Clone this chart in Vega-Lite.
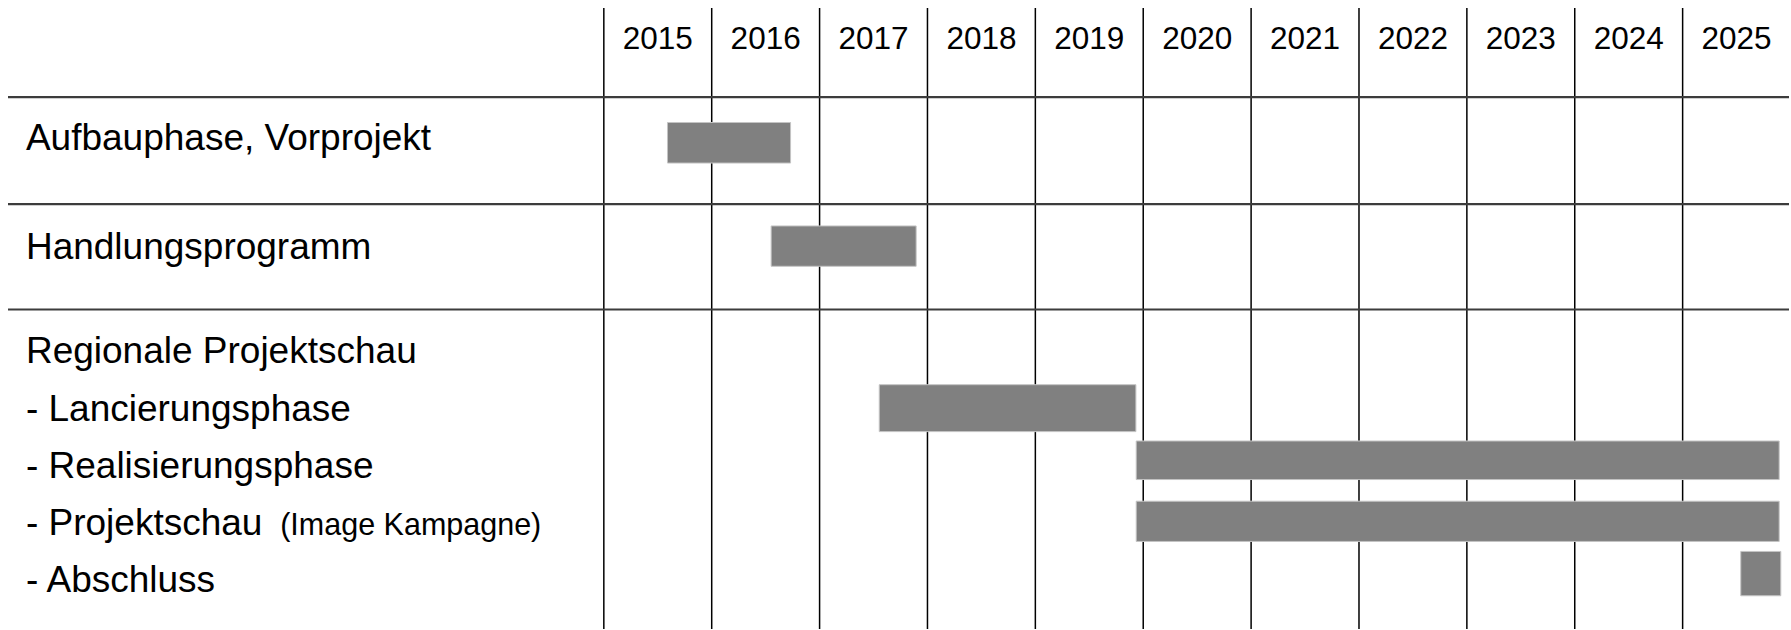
{
  "$schema": "https://vega.github.io/schema/vega-lite/v6.json",
  "width": 1791,
  "height": 630,
  "autosize": {"type": "fit", "contains": "padding"},
  "padding": 0,
  "background": "white",
  "config": {"view": {"stroke": null}},
  "layer": [
    {
      "data": {"values": [
        {"x": 2015, "y": 0.8, "y2": 63},
        {"x": 2016, "y": 0.8, "y2": 63},
        {"x": 2017, "y": 0.8, "y2": 63},
        {"x": 2018, "y": 0.8, "y2": 63},
        {"x": 2019, "y": 0.8, "y2": 63},
        {"x": 2020, "y": 0.8, "y2": 63},
        {"x": 2021, "y": 0.8, "y2": 63},
        {"x": 2022, "y": 0.8, "y2": 63},
        {"x": 2023, "y": 0.8, "y2": 63},
        {"x": 2024, "y": 0.8, "y2": 63},
        {"x": 2025, "y": 0.8, "y2": 63}
      ]},
      "mark": {"type": "rule", "color": "#000000", "strokeWidth": 1.5},
      "encoding": {
        "x": {"field": "x", "type": "quantitative", "axis": null, "scale": {"domain": [2009.4028, 2025.986], "nice": false, "zero": false}},
        "y": {"field": "y", "type": "quantitative", "axis": null, "scale": {"domain": [63, 0], "nice": false, "zero": false}},
        "y2": {"field": "y2"}
      }
    },
    {
      "data": {"values": [
        {"x": 2009.477, "x2": 2025.986, "y": 9.73},
        {"x": 2009.477, "x2": 2025.986, "y": 20.45},
        {"x": 2009.477, "x2": 2025.986, "y": 31.0}
      ]},
      "mark": {"type": "rule", "color": "#3c3c3c", "strokeWidth": 2.2},
      "encoding": {
        "x": {"field": "x", "type": "quantitative"},
        "x2": {"field": "x2"},
        "y": {"field": "y", "type": "quantitative"}
      }
    },
    {
      "data": {"values": [
        {"task": "Aufbauphase, Vorprojekt", "start": 2015.59, "end": 2016.731, "top": 12.27, "bottom": 16.33},
        {"task": "Handlungsprogramm", "start": 2016.551, "end": 2017.895, "top": 22.63, "bottom": 26.67},
        {"task": "Lancierungsphase", "start": 2017.553, "end": 2019.932, "top": 38.53, "bottom": 43.23},
        {"task": "Realisierungsphase", "start": 2019.935, "end": 2025.895, "top": 44.17, "bottom": 48.03},
        {"task": "Projektschau", "start": 2019.935, "end": 2025.895, "top": 50.2, "bottom": 54.23},
        {"task": "Abschluss", "start": 2025.539, "end": 2025.91, "top": 55.23, "bottom": 59.67}
      ]},
      "mark": {"type": "rect", "color": "#808080", "stroke": "#c4c4c4", "strokeWidth": 1},
      "encoding": {
        "x": {"field": "start", "type": "quantitative"},
        "x2": {"field": "end"},
        "y": {"field": "top", "type": "quantitative"},
        "y2": {"field": "bottom"}
      }
    },
    {
      "data": {"values": [
        {"label": "2015", "x": 2015.5, "y": 4.93},
        {"label": "2016", "x": 2016.5, "y": 4.93},
        {"label": "2017", "x": 2017.5, "y": 4.93},
        {"label": "2018", "x": 2018.5, "y": 4.93},
        {"label": "2019", "x": 2019.5, "y": 4.93},
        {"label": "2020", "x": 2020.5, "y": 4.93},
        {"label": "2021", "x": 2021.5, "y": 4.93},
        {"label": "2022", "x": 2022.5, "y": 4.93},
        {"label": "2023", "x": 2023.5, "y": 4.93},
        {"label": "2024", "x": 2024.5, "y": 4.93},
        {"label": "2025", "x": 2025.5, "y": 4.93}
      ]},
      "mark": {"type": "text", "font": "Liberation Sans", "fontSize": 31.5, "align": "center", "baseline": "alphabetic", "color": "#000000"},
      "encoding": {
        "x": {"field": "x", "type": "quantitative"},
        "y": {"field": "y", "type": "quantitative"},
        "text": {"field": "label"}
      }
    },
    {
      "data": {"values": [
        {"label": "Aufbauphase, Vorprojekt", "x": 2009.643, "y": 15.0},
        {"label": "Handlungsprogramm", "x": 2009.643, "y": 25.93},
        {"label": "Regionale Projektschau", "x": 2009.643, "y": 36.33},
        {"label": "- Lancierungsphase", "x": 2009.643, "y": 42.17},
        {"label": "- Realisierungsphase", "x": 2009.643, "y": 47.83},
        {"label": "- Projektschau", "x": 2009.643, "y": 53.6},
        {"label": "- Abschluss", "x": 2009.643, "y": 59.33}
      ]},
      "mark": {"type": "text", "font": "Liberation Sans", "fontSize": 37, "align": "left", "baseline": "alphabetic", "color": "#000000"},
      "encoding": {
        "x": {"field": "x", "type": "quantitative"},
        "y": {"field": "y", "type": "quantitative"},
        "text": {"field": "label"}
      }
    },
    {
      "data": {"values": [
        {"label": "(Image Kampagne)", "x": 2012.0, "y": 53.6}
      ]},
      "mark": {"type": "text", "font": "Liberation Sans", "fontSize": 30.5, "align": "left", "baseline": "alphabetic", "color": "#000000"},
      "encoding": {
        "x": {"field": "x", "type": "quantitative"},
        "y": {"field": "y", "type": "quantitative"},
        "text": {"field": "label"}
      }
    }
  ]
}
